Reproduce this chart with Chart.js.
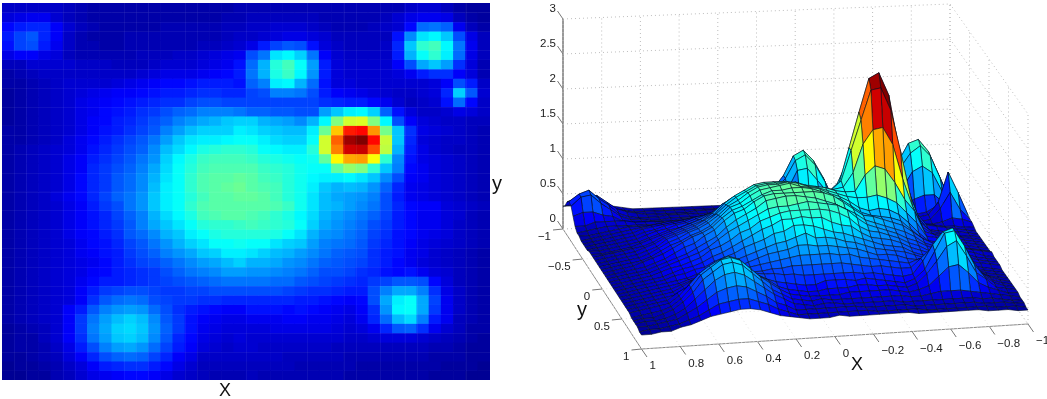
<!DOCTYPE html>
<html>
<head>
<meta charset="utf-8">
<title>Surface</title>
<script src="https://cdn.jsdelivr.net/npm/chart.js@4"></script>
<style>
    html, body { margin: 0; padding: 0; background: #fff; }
    canvas { position: absolute; top: 0; }
    #heatChart { left: 0; }
    #surfaceChart { left: 510px; }
</style>
</head>
<body>
<canvas id="heatChart" width="510" height="399"></canvas>
<canvas id="surfaceChart" width="537" height="399"></canvas>
<script>
// Levels, percent of the colour range (top row first, left column first)
const row00 = [7,7,7,7,7,6,5,4,4,4, 4,4,4,4,4,4,4,4,4,5, 5,5,5,5,5,5,5,5,5,5, 5,5,5,7,8,8,6,4,3,3];
const row01 = [9,10,11,11,8,6,5,4,4,4, 4,4,4,4,4,4,4,4,5,5, 6,6,6,6,6,6,5,5,5,5, 5,6,8,10,11,11,10,6,4,3];
const row02 = [13,15,16,16,12,8,6,5,4,4, 4,4,4,5,5,5,5,5,6,6, 7,7,8,8,8,7,6,5,5,5, 6,7,8,13,23,24,22,11,6,4];
const row03 = [15,19,21,16,12,7,5,4,4,4, 5,5,5,5,5,5,5,5,6,7, 7,8,9,10,10,9,8,6,6,6, 6,6,14,26,35,37,32,20,10,6];
const row04 = [14,19,20,15,11,7,5,5,4,4, 5,5,5,5,5,5,6,6,7,8, 10,15,19,21,20,14,9,7,6,6, 6,7,16,32,42,44,37,24,11,6];
const row05 = [10,12,12,10,9,6,5,5,5,5, 5,6,6,6,7,7,8,9,10,11, 20,24,35,37,33,24,12,8,7,7, 7,7,15,30,38,42,36,23,10,6];
const row06 = [6,6,8,8,8,8,7,7,7,6, 6,6,7,8,8,8,9,10,11,14, 23,30,41,44,38,28,15,9,8,8, 8,8,12,20,29,32,28,17,9,5];
const row07 = [4,5,6,7,7,7,7,7,7,7, 7,8,9,10,10,10,11,12,13,15, 24,30,40,43,37,27,15,9,8,8, 8,8,9,11,15,17,17,12,9,5];
const row08 = [4,4,5,6,7,8,8,8,8,9, 10,11,12,13,13,14,15,15,15,14, 22,25,36,37,30,23,14,9,9,8, 8,8,8,8,8,9,12,20,15,7];
const row09 = [3,4,5,6,7,8,9,10,11,12, 12,13,14,15,15,16,17,17,16,16, 19,20,25,25,24,20,15,12,11,10, 9,8,7,7,8,9,16,33,21,8];
const row10 = [3,4,5,6,7,8,10,11,12,13, 14,15,16,17,17,19,20,20,19,19, 19,19,19,19,19,19,17,16,15,15, 13,11,8,6,7,8,14,23,13,7];
const row11 = [3,4,5,6,7,8,10,11,13,14, 15,17,18,20,22,23,25,25,25,24, 22,22,21,21,20,20,28,32,36,37, 33,22,14,9,7,7,8,10,9,7];
const row12 = [3,4,5,6,7,8,10,12,13,15, 16,18,20,22,25,27,29,30,32,33, 33,30,29,28,26,30,37,50,58,59, 50,37,20,12,9,8,7,7,6,6];
const row13 = [4,4,5,6,7,8,10,12,14,15, 17,19,21,25,28,31,33,33,33,36, 35,33,32,31,31,36,48,68,85,87, 73,49,32,17,10,9,8,7,6,5];
const row14 = [4,4,5,6,7,9,11,13,15,17, 19,21,24,28,32,35,36,36,37,38, 38,36,34,33,33,38,58,78,97,100, 87,57,32,16,9,8,7,7,6,5];
const row15 = [4,5,6,7,8,9,11,14,16,18, 20,22,26,31,34,37,40,41,42,42, 41,38,37,36,36,41,58,75,92,93, 80,56,30,15,10,8,7,6,6,5];
const row16 = [4,5,6,7,8,10,12,15,17,19, 21,24,27,33,37,40,43,44,44,44, 43,41,40,39,38,39,47,63,71,72, 62,42,26,14,10,9,8,7,6,5];
const row17 = [4,5,6,7,8,10,12,16,18,20, 22,25,29,34,38,41,44,45,45,45, 45,43,42,41,39,38,38,47,52,50, 42,32,25,13,11,9,8,7,6,5];
const row18 = [4,5,6,7,8,10,13,16,18,21, 23,26,30,35,38,42,45,46,46,47, 46,44,43,41,39,37,36,36,37,35, 32,26,20,12,11,9,8,7,6,5];
const row19 = [4,5,6,7,8,10,13,16,18,21, 23,26,31,36,38,42,45,46,47,48, 46,45,44,41,39,36,32,30,31,30, 27,22,16,11,10,9,8,7,6,5];
const row20 = [4,5,6,7,9,11,13,16,19,22, 24,27,32,36,38,41,44,46,46,47, 47,46,44,41,39,35,31,29,28,27, 25,20,15,11,10,9,8,7,6,5];
const row21 = [4,5,6,7,8,10,12,15,18,20, 24,27,32,36,38,42,45,46,46,46, 46,46,45,43,39,35,31,30,28,26, 24,20,16,13,12,12,9,8,7,6];
const row22 = [4,5,6,7,8,10,12,14,16,19, 22,25,30,34,37,40,44,45,46,46, 45,44,42,40,37,34,30,28,26,24, 22,19,15,13,11,11,9,8,6,5];
const row23 = [4,5,6,7,8,10,12,14,16,18, 21,25,29,32,35,38,41,42,42,43, 44,43,42,41,38,33,29,27,25,23, 20,18,15,13,11,11,9,7,6,5];
const row24 = [4,5,6,7,8,10,12,13,15,17, 21,23,26,30,32,36,38,40,41,41, 41,41,40,38,35,30,27,26,24,22, 19,17,14,13,11,10,9,7,6,5];
const row25 = [4,5,6,7,8,9,11,13,14,16, 19,21,24,27,30,33,35,38,38,39, 38,38,35,33,32,28,25,24,23,21, 18,16,14,12,10,9,8,7,6,5];
const row26 = [4,5,6,7,8,9,11,12,14,15, 18,20,22,25,27,29,32,33,36,36, 35,33,31,30,28,26,24,22,21,20, 17,15,14,11,10,8,7,6,5,4];
const row27 = [4,5,6,7,8,9,10,11,13,15, 17,19,20,22,24,26,28,29,31,33, 30,30,29,27,26,24,22,21,20,19, 17,15,13,11,9,8,7,6,5,4];
const row28 = [4,5,6,7,8,9,10,12,13,15, 16,17,18,20,22,24,25,26,28,28, 27,27,26,25,24,22,20,20,19,17, 16,14,13,14,11,9,8,6,5,4];
const row29 = [4,5,6,7,8,9,11,13,15,15, 16,17,18,19,20,21,22,23,24,24, 24,24,23,23,21,20,19,18,17,16, 18,19,21,21,20,13,9,6,5,4];
const row30 = [4,5,6,7,8,9,12,15,18,19, 20,20,19,18,18,19,19,20,20,20, 20,20,20,19,18,17,17,16,15,15, 20,25,29,29,25,17,10,7,5,4];
const row31 = [4,5,6,7,8,9,12,17,21,23, 24,23,20,19,18,18,17,17,16,16, 16,16,16,16,15,15,14,13,12,13, 20,29,36,38,29,19,11,7,5,4];
const row32 = [4,5,6,7,8,12,15,21,25,27, 28,27,23,20,17,15,14,13,12,12, 14,14,14,13,14,13,12,11,10,12, 17,27,37,38,29,18,11,7,5,4];
const row33 = [4,5,6,7,8,12,18,24,28,31, 33,31,26,21,18,14,12,11,10,10, 11,11,11,12,12,11,11,10,9,11, 16,23,31,34,25,15,11,6,5,4];
const row34 = [3,4,5,6,8,12,18,25,29,33, 34,32,27,22,18,14,11,10,9,9, 9,9,10,10,10,10,10,9,8,9, 11,16,21,22,17,11,8,6,4,4];
const row35 = [3,4,4,6,8,12,17,24,28,32, 33,31,26,21,16,13,10,9,8,9, 8,8,8,8,8,8,8,8,7,7, 8,9,9,9,8,7,6,5,4,3];
const row36 = [3,4,4,5,7,10,15,20,25,28, 29,27,23,19,15,12,9,8,7,8, 8,7,7,7,7,7,7,6,6,6, 6,6,6,6,6,5,5,4,3,3];
const row37 = [3,3,4,5,6,9,12,16,20,22, 23,22,19,16,12,10,7,7,7,7, 7,7,7,6,6,6,6,6,5,5, 5,5,5,5,5,4,4,4,3,3];
const row38 = [2,3,3,4,5,7,9,12,15,16, 17,17,15,13,10,8,6,6,6,6, 6,6,6,6,5,5,5,5,5,4, 4,4,4,4,4,4,3,3,3,2];
const row39 = [2,2,3,3,5,6,8,10,11,12, 13,13,12,10,8,7,6,5,5,5, 6,5,5,5,5,5,5,5,4,4, 4,4,4,4,4,3,3,3,2,2];

const levels = [row00,row01,row02,row03,row04,row05,row06,row07,row08,row09,
                row10,row11,row12,row13,row14,row15,row16,row17,row18,row19,
                row20,row21,row22,row23,row24,row25,row26,row27,row28,row29,
                row30,row31,row32,row33,row34,row35,row36,row37,row38,row39];

// Faint lines seen on top of the heat map, as cell boundaries
const seamCols = [1, 2, 5, 6, 10, 11, 12, 15, 16, 20, 25, 28, 29, 31, 33, 34, 38];
const seamRows = [1, 2, 3, 5, 7, 9, 11, 14, 16, 18, 20, 22, 24, 26, 28, 30, 31, 33, 35, 37];

// Tick labels of the 3D box
const xTicks = [1, 0.8, 0.6, 0.4, 0.2, 0, -0.2, -0.4, -0.6, -0.8, -1];
const yTicks = [-1, -0.5, 0, 0.5, 1];
const zTicks = [0, 0.5, 1, 1.5, 2, 2.5, 3];

const zMin = 0.15;
const zMax = 2.65;
const fontFamily = '"Liberation Sans", Arial, sans-serif';

function clamp01(v) {
    return Math.max(0, Math.min(1, v));
}

// Jet colormap
function jet(level) {
    const t = level / 100;
    const r = clamp01(1.5 - Math.abs(4 * t - 3));
    const g = clamp01(1.5 - Math.abs(4 * t - 2));
    const b = clamp01(1.5 - Math.abs(4 * t - 1));
    return `rgb(${Math.round(r * 255)},${Math.round(g * 255)},${Math.round(b * 255)})`;
}

function levelToZ(level) {
    return zMin + level / 100 * (zMax - zMin);
}

// Box corners on the right canvas, z = 0
const backLeft = [53, 229];
const backRight = [440, 214];
const frontLeft = [131.5, 349];
const frontRight = [518, 324];
const zScale = 70;

function project(x, y, z) {
    const u = (1 - x) / 2;
    const v = (y + 1) / 2;
    const px = (1 - v) * ((1 - u) * backLeft[0] + u * backRight[0]) + v * ((1 - u) * frontLeft[0] + u * frontRight[0]);
    const py = (1 - v) * ((1 - u) * backLeft[1] + u * backRight[1]) + v * ((1 - u) * frontLeft[1] + u * frontRight[1]);
    return { x: px, y: py - z * zScale };
}

function segment(a, b, color, width, dash) {
    return {
        type: 'scatter',
        data: [a, b],
        showLine: true,
        borderColor: color,
        borderWidth: width,
        borderDash: dash || [],
        pointRadius: 0,
        fill: false,
        clip: false
    };
}

function sceneLabels(chart, items) {
    const ctx = chart.ctx;
    ctx.save();
    items.forEach(item => {
        ctx.font = item.font;
        ctx.fillStyle = item.color;
        ctx.textAlign = item.align;
        ctx.textBaseline = 'middle';
        ctx.fillText(item.text, item.x, item.y);
    });
    ctx.restore();
}

function drawSeams(chart) {
    const ctx = chart.ctx;
    const area = chart.chartArea;
    const half = (chart.scales.x.getPixelForValue(1) - chart.scales.x.getPixelForValue(0)) / 2;
    ctx.save();
    ctx.strokeStyle = 'rgba(255,255,255,0.06)';
    ctx.lineWidth = 1;
    ctx.beginPath();
    seamCols.forEach(c => {
        const px = Math.round(chart.scales.x.getPixelForValue(c) - half) + 0.5;
        ctx.moveTo(px, area.top);
        ctx.lineTo(px, area.bottom);
    });
    seamRows.forEach(r => {
        const py = Math.round(chart.scales.y.getPixelForValue(r)) + 0.5;
        ctx.moveTo(area.left, py);
        ctx.lineTo(area.right, py);
    });
    ctx.stroke();
    ctx.restore();
}

// Heat map: one floating-bar dataset for every row
function buildHeatChart() {
    const colLabels = levels[0].map((_, c) => String(c + 1));
    const datasets = levels.map((row, r) => ({
        label: 'row ' + (r + 1),
        data: row.map(() => [r, r + 1]),
        backgroundColor: row.map(jet),
        borderWidth: 0
    }));
    return new Chart(document.getElementById('heatChart'), {
        type: 'bar',
        data: { labels: colLabels, datasets: datasets },
        options: {
            responsive: false,
            animation: false,
            events: [],
            grouped: false,
            barPercentage: 1,
            categoryPercentage: 1,
            layout: { padding: { left: 2, top: 3, right: 20, bottom: 19 } },
            plugins: { legend: { display: false }, tooltip: { enabled: false } },
            scales: {
                x: { display: false },
                y: { display: false, reverse: true, min: 0, max: levels.length }
            }
        },
        plugins: [{
            id: 'heatLabels',
            afterDraw(chart) {
                drawSeams(chart);
                sceneLabels(chart, [
                    { text: 'X', x: 225, y: 391, font: '18px ' + fontFamily, color: '#111', align: 'center' },
                    { text: 'y', x: 497, y: 184, font: '20px ' + fontFamily, color: '#111', align: 'center' }
                ]);
            }
        }]
    });
}

function buildSurfaceDatasets() {
    const datasets = [];
    const last = levels.length - 1;
    // First dataset is painted last, so start from the corner nearest the viewer
    for (let r = last - 1; r >= 0; r--) {
        for (let c = 0; c < last; c++) {
            const corners = [[r, c], [r, c + 1], [r + 1, c + 1], [r + 1, c]];
            const pts = corners.map(([i, j]) => project(1 - 2 * j / last, -1 + 2 * i / last, levelToZ(levels[i][j])));
            datasets.push({
                type: 'scatter',
                data: pts.concat([pts[0]]),
                showLine: true,
                fill: 'shape',
                // flat shading takes the colour of the face's first vertex
                backgroundColor: jet(levels[r][c]),
                borderColor: 'rgba(5,15,30,0.85)',
                borderWidth: 0.7,
                pointRadius: 0,
                tension: 0,
                clip: false
            });
        }
    }
    return datasets;
}

function buildBoxDatasets() {
    const sets = [];
    const wall = '#bdbdbd';
    const dots = [1, 3];
    const top = zTicks[zTicks.length - 1];
    zTicks.forEach(z => {
        sets.push(segment(project(1, -1, z), project(-1, -1, z), wall, 1, dots));
        sets.push(segment(project(-1, -1, z), project(-1, 1, z), wall, 1, dots));
        const p = project(1, -1, z);
        sets.push(segment(p, { x: p.x - 5.5, y: p.y - 8 }, '#777', 1));
    });
    xTicks.forEach(x => {
        sets.push(segment(project(x, -1, 0), project(x, -1, top), wall, 1, dots));
        sets.push(segment(project(x, -1, 0), project(x, 1, 0), '#e0e0e0', 1, dots));
        const p = project(x, 1, 0);
        sets.push(segment(p, { x: p.x + 5.5, y: p.y + 8 }, '#777', 1));
    });
    yTicks.forEach(y => {
        sets.push(segment(project(-1, y, 0), project(-1, y, top), wall, 1, dots));
        sets.push(segment(project(1, y, 0), project(-1, y, 0), '#e0e0e0', 1, dots));
        const p = project(1, y, 0);
        sets.push(segment(p, { x: p.x - 10, y: p.y + 1 }, '#777', 1));
    });
    sets.push(segment(project(1, -1, 0), project(1, -1, top), '#999', 2));
    sets.push(segment(project(1, -1, 0), project(1, 1, 0), '#888', 1));
    sets.push(segment(project(1, 1, 0), project(-1, 1, 0), '#888', 1));
    return sets;
}

function tickText(v) {
    return String(v).replace('-', '\u2212');
}

function buildSurfaceLabels() {
    const small = '11.5px ' + fontFamily;
    const items = [];
    zTicks.forEach(z => {
        const p = project(1, -1, z);
        items.push({ text: tickText(z), x: p.x - 7, y: p.y - 10, font: small, color: '#222', align: 'right' });
    });
    yTicks.forEach(y => {
        const p = project(1, y, 0);
        items.push({ text: tickText(y), x: p.x - 12, y: p.y + 8, font: small, color: '#222', align: 'right' });
    });
    xTicks.forEach(x => {
        const p = project(x, 1, 0);
        items.push({ text: tickText(x), x: p.x + 8, y: p.y + 17, font: small, color: '#222', align: 'left' });
    });
    items.push({ text: 'y', x: 72, y: 310, font: '20px ' + fontFamily, color: '#111', align: 'center' });
    items.push({ text: 'X', x: 347, y: 365, font: '18px ' + fontFamily, color: '#111', align: 'center' });
    return items;
}

function buildSurfaceChart() {
    const labels = buildSurfaceLabels();
    return new Chart(document.getElementById('surfaceChart'), {
        type: 'scatter',
        data: { datasets: buildSurfaceDatasets().concat(buildBoxDatasets()) },
        options: {
            responsive: false,
            animation: false,
            events: [],
            layout: { padding: 0 },
            plugins: { legend: { display: false }, tooltip: { enabled: false } },
            scales: {
                x: { display: false, min: 0, max: 537 },
                y: { display: false, reverse: true, min: 0, max: 399 }
            }
        },
        plugins: [{
            id: 'surfaceLabels',
            afterDraw(chart) {
                sceneLabels(chart, labels);
            }
        }]
    });
}

buildHeatChart();
buildSurfaceChart();
</script>
</body>
</html>
